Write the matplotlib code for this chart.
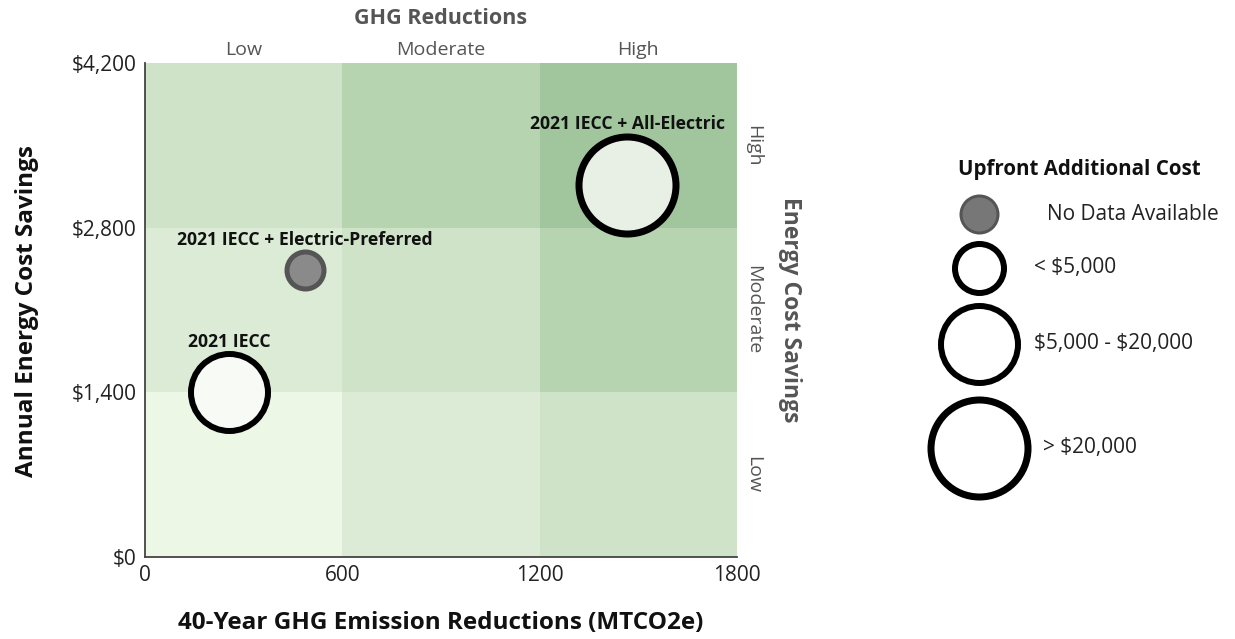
import matplotlib.pyplot as plt
from matplotlib.patches import Rectangle
from matplotlib.transforms import blended_transform_factory

# scenario results
scenarios = ['2021 IECC', '2021 IECC + Electric-Preferred', '2021 IECC + All-Electric']
ghg_reductions = [255, 486, 1467]      # 40-year MTCO2e
cost_savings = [1400, 2440, 3160]      # $ per year
upfront_cost = ['$5,000 - $20,000', 'No Data Available', '> $20,000']

cost_levels = ['No Data Available', '< $5,000', '$5,000 - $20,000', '> $20,000']
band_labels = ['Low', 'Moderate', 'High']
x_edges = [0, 600, 1200, 1800]
y_edges = [0, 1400, 2800, 4200]
x_ticks = [0, 600, 1200, 1800]
y_ticks = [0, 1400, 2800, 4200]

# bubble look per cost level: (diameter px, edge width px, face, edge)
level_style = {
    'No Data Available': (37, 5, '#8a8a8a', '#555555'),
    '< $5,000': (49, 6, 'white', 'black'),
    '$5,000 - $20,000': (77, 6, 'white', 'black'),
    '> $20,000': (97, 7, 'white', 'black'),
}
bubble_face = ['#f7faf5', '#8a8a8a', '#e8f0e6']
cell_colors = ['#ecf7e6', '#dcebd5', '#cee3c7', '#b7d4b0', '#a1c69e']

PX = 0.72  # points per pixel at 100 dpi
FONT = 'Open Sans'

fig = plt.figure(figsize=(12.35, 6.39), dpi=100)
ax = fig.add_axes([145 / 1235, 1 - 557 / 639, 592 / 1235, 494 / 639])

for i in range(3):
    for j in range(3):
        ax.add_patch(Rectangle((x_edges[i], y_edges[j]),
                               x_edges[i + 1] - x_edges[i],
                               y_edges[j + 1] - y_edges[j],
                               facecolor=cell_colors[i + j], edgecolor='none',
                               zorder=0))

for name, x, y, lvl, fc in zip(scenarios, ghg_reductions, cost_savings,
                               upfront_cost, bubble_face):
    d, lw, _, ec = level_style[lvl]
    ax.scatter(x, y, s=(d * PX) ** 2, facecolor=fc, edgecolor=ec,
               linewidth=lw * PX, zorder=3)
    ax.annotate(name, (x, y), xytext=(0, (d / 2 + lw / 2 + 4) * PX),
                textcoords='offset points', ha='center', va='baseline',
                fontsize=12.7, fontweight='bold', family=FONT,
                color='#111111', zorder=4)

ax.set_xlim(0, 1800)
ax.set_ylim(0, 4200)
ax.set_xticks(x_ticks)
ax.set_xticklabels([str(v) for v in x_ticks])
ax.set_yticks(y_ticks)
ax.set_yticklabels(['${:,}'.format(v) for v in y_ticks])
ax.tick_params(length=0, labelsize=15, colors='#222222', pad=6)
for lab in ax.get_xticklabels() + ax.get_yticklabels():
    lab.set_family(FONT)
for s in ['top', 'right']:
    ax.spines[s].set_visible(False)
for s in ['left', 'bottom']:
    ax.spines[s].set_color('#444444')
    ax.spines[s].set_linewidth(1.3)

# band names along the top and right edges
tr_top = blended_transform_factory(ax.transData, ax.transAxes)
tr_right = blended_transform_factory(ax.transAxes, ax.transData)
for k, lab in enumerate(band_labels):
    xc = (x_edges[k] + x_edges[k + 1]) / 2
    yc = (y_edges[k] + y_edges[k + 1]) / 2
    ax.text(xc, 1.026, lab, transform=tr_top, ha='center', va='center',
            fontsize=14, family=FONT, color='#555555')
    ax.text(1.027, yc, lab, transform=tr_right, ha='center', va='center',
            rotation=-90, fontsize=14, family=FONT, color='#555555')

ax.text(0.5, 1.091, 'GHG Reductions', transform=ax.transAxes, ha='center',
        va='center', fontsize=15.5, fontweight='bold', family=FONT,
        color='#555555')
ax.text(1.09, 0.5, 'Energy Cost Savings', transform=ax.transAxes,
        ha='center', va='center', rotation=-90, fontsize=16.5,
        fontweight='bold', family=FONT, color='#555555')

fig.text(27 / 1235, 1 - 311 / 639, 'Annual Energy Cost Savings', rotation=90,
         ha='center', va='center', fontsize=17.5, fontweight='bold',
         family=FONT, color='#111111')
fig.text(441 / 1235, 1 - 623 / 639, '40-Year GHG Emission Reductions (MTCO2e)',
         ha='center', va='center', fontsize=17.5, fontweight='bold',
         family=FONT, color='#111111')

# size legend, laid out in pixel coordinates
lax = fig.add_axes([0, 0, 1, 1])
lax.set_xlim(0, 1235)
lax.set_ylim(639, 0)
lax.axis('off')
lax.text(1079, 170, 'Upfront Additional Cost', ha='center', va='center',
         fontsize=14.8, fontweight='bold', family=FONT, color='#111111')
legend_y = [214, 268, 344, 448]
label_x = [1047, 1034, 1034, 1043]
for lvl, ly, lx in zip(cost_levels, legend_y, label_x):
    d, lw, fc, ec = level_style[lvl]
    if lvl == 'No Data Available':
        fc = '#777777'
        lw = 3
    lax.scatter(979, ly, s=(d * PX) ** 2, facecolor=fc, edgecolor=ec,
                linewidth=lw * PX)
    lax.text(lx, ly, lvl, ha='left', va='center', fontsize=15,
             family=FONT, color='#222222', parse_math=False)

fig.savefig('out.png', dpi=100, facecolor='white')
